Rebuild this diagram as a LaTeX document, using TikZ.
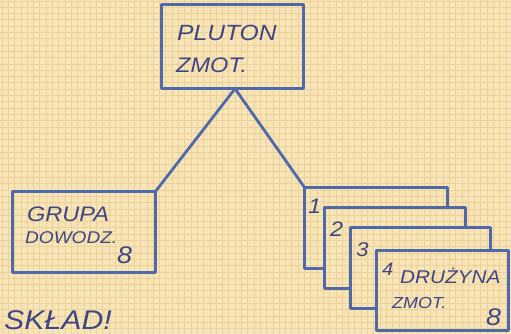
\documentclass[tikz,border=0pt]{standalone}
\usepackage{fontspec}
\setmainfont{Liberation Sans}
\newfontfamily\hand[FakeStretch=1.12]{Liberation Sans}
\usetikzlibrary{calc}
\definecolor{paper}{HTML}{F7E5BA}
\definecolor{gridc}{HTML}{F0D095}
\definecolor{ink}{HTML}{5069AA}
\definecolor{pen}{HTML}{404683}
\begin{document}
\begin{tikzpicture}[x=1pt,y=-1pt,
  box/.style={draw=none,inner sep=0pt,rectangle},
  inkline/.style={draw=ink,line width=2.8pt,line join=round,line cap=round},
  hw/.style={text=pen,inner sep=0pt,anchor=base west}]
\fill[paper] (0,0) rectangle (511,334);
\useasboundingbox (0,0) rectangle (511,334);
\foreach \i in {0,...,81} {\draw[gridc,line width=0.8pt] (\i*6.3+2,0) -- (\i*6.3+2,334);}
\foreach \j in {0,...,53} {\draw[gridc,line width=0.8pt] (0,\j*6.3+1) -- (511,\j*6.3+1);}
% boxes
\node[box,minimum width=141,minimum height=84] (pluton) at (232.5,46.5) {};
\node[box,minimum width=142,minimum height=80] (grupa) at (84,232) {};
\node[box,minimum width=142,minimum height=80] (b1) at (376,228) {};
\node[box,minimum width=140,minimum height=80] (b2) at (395,248) {};
\node[box,minimum width=139,minimum height=80] (b3) at (420.5,268) {};
\node[box,minimum width=131,minimum height=79] (b4) at (442.5,290.5) {};
\draw[inkline] (pluton.north west) rectangle (pluton.south east);
\draw[inkline] (grupa.north west) rectangle (grupa.south east);
\draw[inkline] (b2.north -| b1.east) -- (b1.north east) -- (b1.north west) -- (b1.south west) -- (b1.south -| b2.west);
\draw[inkline] (b3.north -| b2.east) -- (b2.north east) -- (b2.north west) -- (b2.south west) -- (b2.south -| b3.west);
\draw[inkline] (b4.north -| b3.east) -- (b3.north east) -- (b3.north west) -- (b3.south west) -- (b3.south -| b4.west);
\draw[inkline] (b4.north west) rectangle (b4.south east);
% connectors
\coordinate (apex) at ($(pluton.south)+(2.5,0)$);
\draw[inkline] (apex) -- (grupa.north east);
\draw[inkline] (apex) -- (b1.north west);
% texts
\node[hw,font=\hand\itshape\fontsize{22}{22}\selectfont] (t1) at (177,41) {PLUTON};
\node[hw,font=\hand\itshape\fontsize{21}{21}\selectfont] (t2) at (176,73) {ZMOT.};
\node[hw,font=\hand\itshape\fontsize{21}{21}\selectfont] (t3) at (27,221) {GRUPA};
\node[hw,font=\hand\itshape\fontsize{17}{17}\selectfont] (t4) at (25,243) {DOWODZ.};
\node[hw,font=\hand\itshape\fontsize{24}{24}\selectfont] (t5) at (117,263) {8};
\node[hw,font=\hand\itshape\fontsize{27}{27}\selectfont] (t6) at (4,329) {SKŁAD!};
\node[hw,font=\hand\itshape\fontsize{21}{21}\selectfont] (n1) at (308,213) {1};
\node[hw,font=\hand\itshape\fontsize{21}{21}\selectfont] (n2) at (330,236) {2};
\node[hw,font=\hand\itshape\fontsize{20}{20}\selectfont] (n3) at (356,256) {3};
\node[hw,font=\hand\itshape\fontsize{18}{18}\selectfont] (n4) at (382,275) {4};
\node[hw,font=\hand\itshape\fontsize{18.5}{18.5}\selectfont] (t7) at (400,283) {DRUŻYNA};
\node[hw,font=\hand\itshape\fontsize{16}{16}\selectfont] (t8) at (392,308) {ZMOT.};
\node[hw,font=\hand\itshape\fontsize{24}{24}\selectfont] (t9) at (486,325) {8};
\end{tikzpicture}
\end{document}
